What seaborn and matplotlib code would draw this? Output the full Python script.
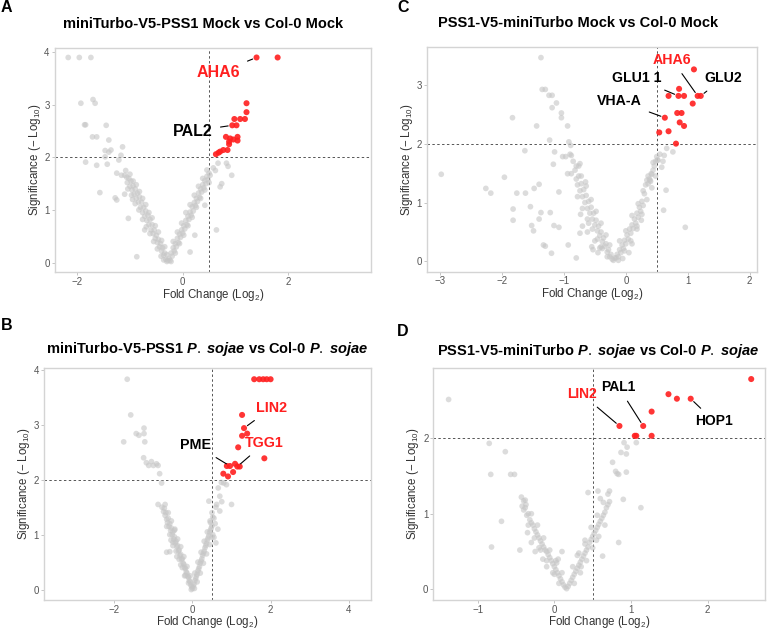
import numpy as np
import pandas as pd
import seaborn as sns
import matplotlib.pyplot as plt

# ---- panel A: miniTurbo-V5-PSS1 Mock vs Col-0 Mock ----
a_grey_x = [-2.17, -1.96, -1.74, -1.93, -1.70, -1.66, -1.86, -1.84, -1.45, -1.71, -1.63, -1.40,
            -1.47, -1.40, -1.36, -1.84, -1.63, -1.47, -1.43, -1.57, -1.28, -1.17, -1.14, -1.21,
            -1.25, -1.16, -1.25, -1.03, -0.87, -0.95, -1.10, -0.72,
            -1.10, -1.06, -1.05, -1.02, -1.00, -0.98, -0.96, -0.94, -0.92, -0.90, -0.88, -0.86,
            -0.84, -0.82, -0.80, -0.78, -0.76, -0.74, -0.72, -0.70, -0.68, -0.66, -0.64, -0.62,
            -0.60, -0.58, -0.56, -0.54, -0.52, -0.50, -0.48, -0.46, -0.44, -0.42, -0.40, -0.38,
            -0.36, -0.34, -0.32, -0.30, -0.28,
            -1.08, -1.00, -0.94, -0.88, -0.82, -0.76, -0.70, -0.64, -0.58, -0.52, -0.46, -0.40,
            -0.34, -0.30, -1.04, -0.97, -0.90, -0.83, -0.76, -0.69, -0.62, -0.55, -0.48, -0.41,
            -0.36,
            -0.26, -0.24, -0.22, -0.20, -0.18, -0.16, -0.14, -0.12, -0.10, -0.08, -0.06, -0.04,
            -0.02, 0.00, 0.02, 0.04, 0.06, 0.08, 0.10, 0.12, 0.14, 0.16, 0.18, 0.20, 0.22, 0.24,
            0.26, 0.28, 0.30, 0.32, 0.34, 0.36, 0.38, 0.40, 0.42, 0.44, 0.46, 0.48, 0.50, 0.52,
            -0.18, -0.10, -0.02, 0.06, 0.14, 0.22, 0.30, 0.38, 0.46,
            -0.22, -0.14, -0.06, 0.02, 0.10, 0.18, 0.26, 0.34, 0.42, 0.50,
            0.14, 0.23, 0.42, 0.64, 0.67, 0.83, 0.86, 0.93, 0.74, 0.71, 0.58, 0.62]
a_grey_y = [3.90, 3.90, 3.90, 3.03, 3.10, 3.03, 2.62, 2.62, 2.61, 2.39, 2.39, 2.33,
            2.13, 2.10, 2.14, 1.91, 1.85, 2.01, 1.87, 1.33, 1.23, 2.04, 2.20, 1.95,
            1.70, 1.66, 1.19, 0.84, 0.11, 1.20, 1.30, 0.62,
            1.66, 1.62, 1.52, 1.60, 1.45, 1.55, 1.38, 1.46, 1.30, 1.40, 1.22, 1.32,
            1.15, 1.25, 1.05, 1.15, 0.95, 1.05, 0.88, 0.98, 0.80, 0.90, 0.72, 0.82,
            0.62, 0.72, 0.55, 0.62, 0.46, 0.52, 0.38, 0.44, 0.30, 0.36, 0.22, 0.28,
            0.14, 0.18, 0.06, 0.02, 0.04,
            1.75, 1.68, 1.55, 1.48, 1.35, 1.22, 1.10, 0.95, 0.85, 0.70, 0.58, 0.42,
            0.30, 0.15, 1.40, 1.28, 1.12, 1.00, 0.82, 0.68, 0.55, 0.40, 0.26, 0.12,
            0.05,
            0.08, 0.04, 0.18, 0.12, 0.28, 0.22, 0.36, 0.30, 0.46, 0.38, 0.54, 0.48,
            0.62, 0.56, 0.70, 0.64, 0.80, 0.72, 0.88, 0.82, 0.96, 0.90, 1.06, 0.98, 1.14, 1.08,
            1.22, 1.16, 1.32, 1.24, 1.40, 1.34, 1.48, 1.42, 1.56, 1.50, 1.64, 1.58, 1.70, 1.66,
            0.40, 0.58, 0.75, 0.95, 1.10, 1.28, 1.45, 1.60, 1.76,
            0.02, 0.18, 0.36, 0.52, 0.70, 0.86, 1.05, 1.22, 1.38, 1.52,
            0.20, 0.52, 1.09, 0.62, 1.89, 1.89, 1.83, 1.66, 1.50, 1.44, 1.80, 1.75]
a_red_x = [1.40, 1.80, 1.21, 1.21, 0.98, 1.09, 1.18, 0.94, 1.02, 0.82, 0.90, 1.04, 1.04,
           0.88, 0.88, 0.96, 0.77, 0.85, 0.68, 0.63, 0.71]
a_red_y = [3.90, 3.90, 3.03, 2.86, 2.73, 2.73, 2.73, 2.61, 2.61, 2.39, 2.36, 2.39, 2.32,
           2.30, 2.25, 2.34, 2.14, 2.14, 2.09, 2.06, 2.11]
a_labels = ["AHA6", "PAL2"]
a_label_idx = [0, 7]

# ---- panel C: PSS1-V5-miniTurbo Mock vs Col-0 Mock ----
c_grey_x = [-1.37, -1.35, -1.30, -1.24, -1.19, -1.12, -1.19, -1.04, -1.04, -0.94, -1.83, -1.44,
            -1.23, -0.92, -0.89, -1.15, -1.63, -1.17, -1.02, -0.97, -0.90, -0.88, -0.74, -0.76,
            -2.98, -1.96, -2.26, -2.18, -1.48, -1.40, -1.76, -1.62, -1.08, -1.22, -1.82, -1.82,
            -1.54, -1.37, -1.40, -1.52, -1.49, -1.16, -1.08, -1.33, -1.30, -1.20, -0.93, -0.80,
            -0.94, -0.88,
            -0.82, -0.80, -0.78, -0.76, -0.74, -0.72, -0.70, -0.68, -0.66, -0.64, -0.62, -0.60,
            -0.58, -0.56, -0.54, -0.52, -0.50, -0.48, -0.46, -0.44, -0.42, -0.40, -0.38, -0.36,
            -0.34, -0.32, -0.30, -0.28, -0.26, -0.24, -0.22, -0.20, -0.18,
            -0.80, -0.72, -0.64, -0.56, -0.48, -0.40, -0.32, -0.26,
            -0.78, -0.70, -0.62, -0.54, -0.46, -0.38, -0.30,
            -0.73, -0.62, -0.60, -0.50, -0.70, -0.55, -0.45, -0.65, -0.85, -0.40, -0.74, -0.53,
            -0.42,
            -0.16, -0.14, -0.12, -0.10, -0.08, -0.06, -0.04, -0.02, 0.00, 0.02, 0.04, 0.06,
            0.08, 0.10, 0.12, 0.14, 0.16, 0.18, 0.20, 0.22, 0.24, 0.26, 0.28, 0.30, 0.32, 0.34,
            0.36, 0.38, 0.40, 0.42, 0.44, 0.46, 0.48, 0.50, 0.52, 0.55,
            -0.10, 0.00, 0.10, 0.20, 0.28, 0.36, 0.44,
            -0.12, -0.02, 0.08, 0.18, 0.26, 0.34, 0.42, 0.48,
            0.39, 0.41, 0.51, 0.66, 0.61, 0.65, 0.76, 0.96, 0.60, 0.58, 0.62, 0.10, 0.05, 0.18,
            0.25, -0.05]
c_grey_y = [3.46, 2.92, 2.92, 2.82, 2.82, 2.69, 2.61, 2.52, 2.44, 2.30, 2.44, 2.30,
            2.06, 2.03, 1.97, 1.86, 1.88, 1.65, 1.78, 1.78, 1.82, 1.80, 1.66, 1.62,
            1.48, 1.43, 1.24, 1.16, 1.24, 1.31, 1.16, 1.16, 1.18, 0.83, 0.89, 0.70,
            0.93, 0.83, 0.72, 0.61, 0.52, 0.61, 0.58, 0.28, 0.26, 0.14, 0.28, 0.06,
            1.49, 1.49,
            1.55, 1.40, 1.30, 1.45, 1.20, 1.32, 1.10, 1.22, 1.00, 1.12, 0.90, 1.02,
            0.82, 0.92, 0.72, 0.82, 0.62, 0.70, 0.52, 0.60, 0.44, 0.50, 0.34, 0.40,
            0.26, 0.30, 0.16, 0.20, 0.08, 0.12, 0.04, 0.02, 0.06,
            1.62, 1.45, 1.28, 1.05, 0.85, 0.65, 0.45, 0.28,
            1.10, 0.90, 0.72, 0.55, 0.38, 0.22, 0.08,
            0.80, 0.50, 0.65, 0.35, 0.60, 0.25, 0.15, 1.35, 1.70, 0.25, 0.48, 0.20,
            0.23,
            0.06, 0.12, 0.08, 0.20, 0.15, 0.28, 0.22, 0.36, 0.30, 0.45, 0.38, 0.55,
            0.48, 0.62, 0.56, 0.72, 0.65, 0.82, 0.75, 0.92, 0.85, 1.02, 0.95, 1.15, 1.30, 1.38,
            1.32, 1.40, 1.36, 1.48, 1.55, 1.62, 1.70, 1.78, 1.72, 1.82,
            0.35, 0.52, 0.78, 0.98, 1.20, 1.45, 1.68,
            0.02, 0.18, 0.35, 0.60, 0.80, 1.05, 1.25, 1.45,
            1.38, 1.49, 1.72, 1.92, 0.87, 1.21, 1.86, 0.58, 1.70, 1.60, 1.80, 0.30, 0.15, 0.55,
            0.70, 0.05]
c_red_x = [1.10, 0.86, 0.69, 0.85, 0.94, 1.16, 1.21, 1.08, 0.83, 0.90, 0.63, 0.87, 0.94,
           0.69, 0.54, 0.81]
c_red_y = [3.26, 2.93, 2.81, 2.81, 2.81, 2.81, 2.81, 2.68, 2.52, 2.52, 2.44, 2.36, 2.30,
           2.21, 2.19, 2.00]
c_labels = ["AHA6", "GLU2", "GLU1 1", "VHA-A"]
c_label_idx = [5, 6, 3, 10]

# ---- panel B: miniTurbo-V5-PSS1 P. sojae vs Col-0 P. sojae ----
b_grey_x = [-1.67, -1.58, -1.76, -1.44, -1.37, -1.24, -1.24, -1.22, -1.25, -1.18, -1.05, -0.92,
            -1.12, -1.00, -0.88, -0.84, -0.79, -0.88,
            -0.78, -0.74, -0.72, -0.70, -0.68, -0.66, -0.64, -0.62, -0.60, -0.58, -0.56, -0.54,
            -0.52, -0.50, -0.48, -0.46, -0.44, -0.42, -0.40, -0.38, -0.36, -0.34, -0.32, -0.30,
            -0.28, -0.26, -0.24, -0.22, -0.20, -0.18, -0.16, -0.14, -0.12, -0.10, -0.08, -0.06,
            -0.04, -0.02, 0.00,
            -0.70, -0.62, -0.54, -0.46, -0.38, -0.30, -0.22, -0.14, -0.06,
            -0.66, -0.58, -0.50, -0.42, -0.34, -0.26, -0.18, -0.10, -0.03,
            -0.58, -0.66, -0.50, -0.40, -0.30, -0.20, -0.45, -0.55,
            0.02, 0.04, 0.06, 0.08, 0.10, 0.12, 0.14, 0.16, 0.18, 0.20, 0.22, 0.24, 0.26, 0.28,
            0.30, 0.32, 0.34, 0.36, 0.38, 0.40, 0.42, 0.44, 0.46, 0.48, 0.50,
            0.06, 0.14, 0.22, 0.30, 0.38, 0.46, 0.52,
            0.05, 0.12, 0.20, 0.28, 0.36, 0.44, 0.50,
            0.42, 0.55, 0.60, 0.62, 0.66, 0.70, 0.74, 0.80, 0.87, 0.65, 0.55, 0.58, 0.70, 0.75,
            0.50, 0.45, 0.60, 1.00, 0.52]
b_grey_y = [3.83, 3.18, 2.69, 2.84, 2.81, 2.94, 2.84, 2.69, 2.40, 2.31, 2.33, 2.29,
            2.26, 2.26, 2.26, 2.11, 1.94, 1.55,
            1.50, 1.42, 1.48, 1.35, 1.40, 1.28, 1.22, 1.30, 1.15, 1.20, 1.08, 1.12,
            1.00, 1.05, 0.92, 0.96, 0.85, 0.88, 0.78, 0.80, 0.70, 0.72, 0.62, 0.64,
            0.55, 0.56, 0.48, 0.46, 0.40, 0.38, 0.32, 0.30, 0.24, 0.22, 0.16, 0.14,
            0.08, 0.05, 0.02,
            1.55, 1.40, 1.25, 1.08, 0.92, 0.78, 0.60, 0.42, 0.25,
            1.15, 1.00, 0.86, 0.70, 0.55, 0.40, 0.26, 0.12, 0.00,
            0.69, 0.68, 0.80, 0.60, 0.45, 0.25, 1.10, 0.90,
            0.06, 0.10, 0.16, 0.20, 0.24, 0.28, 0.34, 0.38, 0.42, 0.48, 0.52, 0.56, 0.62, 0.66,
            0.70, 0.76, 0.80, 0.84, 0.90, 0.94, 0.98, 1.04, 1.08, 1.12, 1.16,
            0.30, 0.50, 0.68, 0.88, 1.05, 1.22, 1.32,
            0.02, 0.14, 0.30, 0.48, 0.65, 0.82, 0.95,
            1.61, 1.30, 1.50, 1.55, 1.85, 1.43, 1.95, 1.94, 1.91, 1.10, 0.95, 1.20, 1.70, 1.60,
            1.40, 1.25, 0.85, 1.55, 1.00]
b_red_x = [1.58, 1.71, 1.81, 1.90, 2.00, 1.27, 1.32, 1.27, 1.40, 1.17, 1.84, 0.88, 0.96,
           1.09, 1.15, 1.21, 1.04, 0.79, 0.91]
b_red_y = [3.83, 3.83, 3.83, 3.83, 3.83, 3.18, 2.94, 2.80, 2.84, 2.59, 2.39, 2.25, 2.25,
           2.29, 2.24, 2.24, 2.14, 2.11, 2.06]
b_labels = ["LIN2", "TGG1", "PME"]
b_label_idx = [6, 14, 12]

# ---- panel D: PSS1-V5-miniTurbo P. sojae vs Col-0 P. sojae ----
d_grey_x = [-1.38, -0.85, -0.64, -0.83, -0.57, -0.52, -0.69, -0.82, -0.43, -0.40, -0.37,
            -0.42, -0.40, -0.38, -0.36, -0.34, -0.32, -0.30, -0.28, -0.26, -0.24, -0.22, -0.20,
            -0.18, -0.16, -0.14, -0.12, -0.10, -0.08, -0.06, -0.04, -0.02, 0.00, 0.02, 0.04,
            0.06, 0.08, 0.10, 0.12, 0.14, 0.16,
            -0.38, -0.30, -0.22, -0.14, -0.06, 0.02, 0.10,
            -0.34, -0.26, -0.18, -0.10, -0.02, 0.06,
            -0.45, -0.30, -0.25, -0.15, -0.10, 0.05, 0.00, -0.35, -0.20, 0.10, 0.03,
            0.18, 0.20, 0.22, 0.24, 0.26, 0.28, 0.30, 0.32, 0.34, 0.36, 0.38, 0.40, 0.42, 0.44,
            0.46, 0.48, 0.50, 0.52, 0.54, 0.56, 0.58, 0.60, 0.62, 0.64, 0.66, 0.68, 0.70, 0.72,
            0.24, 0.32, 0.40, 0.48, 0.56, 0.64, 0.72,
            0.26, 0.34, 0.42, 0.50, 0.58, 0.66,
            0.44, 0.57, 0.70, 0.76, 0.80, 0.82, 0.84, 0.94, 0.90, 1.13, 0.84, 0.63, 0.91, 0.95,
            0.94, 1.07, 0.87, 0.40, 0.35, 0.55, 0.60, 0.30]
d_grey_y = [2.51, 1.93, 1.82, 1.52, 1.52, 1.52, 0.90, 0.56, 1.22, 1.17, 1.12,
            1.10, 1.05, 1.08, 0.98, 1.00, 0.92, 0.88, 0.85, 0.80, 0.76, 0.72, 0.68,
            0.64, 0.60, 0.56, 0.52, 0.50, 0.46, 0.42, 0.38, 0.34, 0.30, 0.26, 0.22,
            0.18, 0.14, 0.10, 0.06, 0.03, 0.01,
            1.18, 1.00, 0.85, 0.68, 0.52, 0.38, 0.22,
            0.85, 0.68, 0.52, 0.38, 0.22, 0.08,
            0.52, 0.62, 0.50, 0.40, 0.30, 0.40, 0.20, 0.75, 0.55, 0.50, 0.35,
            0.04, 0.08, 0.12, 0.16, 0.20, 0.24, 0.28, 0.32, 0.36, 0.40, 0.44, 0.48, 0.52, 0.56,
            0.62, 0.66, 0.70, 0.74, 0.78, 0.82, 0.86, 0.90, 0.94, 0.98, 1.02, 1.08, 1.12, 1.16,
            0.30, 0.48, 0.65, 0.82, 0.98, 1.15, 1.30,
            0.08, 0.22, 0.38, 0.55, 0.70, 0.85,
            1.28, 1.30, 1.26, 1.68, 1.56, 1.53, 1.52, 1.55, 1.19, 1.08, 0.62, 0.44, 1.94, 1.88,
            1.79, 1.94, 1.81, 0.60, 0.30, 0.65, 1.20, 0.45]
d_red_x = [2.57, 1.49, 1.60, 1.78, 1.27, 0.85, 1.16, 1.05, 1.07, 1.27]
d_red_y = [2.78, 2.58, 2.52, 2.52, 2.35, 2.16, 2.16, 2.03, 2.03, 2.03]
d_labels = ["LIN2", "PAL1", "HOP1"]
d_label_idx = [5, 6, 3]

sns.set_theme(style="white")
plt.rcParams['font.family'] = ['Liberation Sans', 'DejaVu Sans']
plt.rcParams['mathtext.fontset'] = 'custom'
plt.rcParams['mathtext.rm'] = 'Liberation Sans'
plt.rcParams['mathtext.it'] = 'Liberation Sans:italic:bold'
plt.rcParams['mathtext.bf'] = 'Liberation Sans:bold'

W, H = 767, 632
fig = plt.figure(figsize=(W / 100, H / 100), dpi=100)


def px_axes(l, t, r, b):
    return fig.add_axes([l / W, 1 - b / H, (r - l) / W, (b - t) / H])


def volcano(ax, gx, gy, rx, ry, xlim, ylim, xticks, yticks, labels, idx, label_pos,
            label_cols, fs, xlab_y):
    grey = pd.DataFrame({"fc": gx, "sig": gy})
    red = pd.DataFrame({"fc": rx, "sig": ry})
    sns.scatterplot(data=grey, x="fc", y="sig", color="#c6c6c6", alpha=0.6, s=17,
                    edgecolor="none", ax=ax, zorder=2)
    sns.scatterplot(data=red, x="fc", y="sig", color="#ff1f1f", alpha=0.9, s=19,
                    edgecolor="none", ax=ax, zorder=3)
    ax.axvline(0.5, color="#555555", lw=0.7, dashes=(2.5, 2.5), zorder=1)
    ax.axhline(2, color="#555555", lw=0.7, dashes=(2.5, 2.5), zorder=1)
    ax.set_xlim(*xlim)
    ax.set_ylim(*ylim)
    ax.set_xticks(xticks)
    ax.set_yticks(yticks)
    ax.tick_params(length=2, width=0.6, color="#bbbbbb", labelsize=7,
                   labelcolor="#555555", pad=1.5, left=True, bottom=True)
    for s in ax.spines.values():
        s.set_color("#d4d4d4")
        s.set_linewidth(1.0)
    ax.set_xlabel(r"Fold Change (Log$_2$)", fontsize=8.3, color="#333333")
    ax.set_ylabel(r"Significance ($-$ Log$_{10}$)", fontsize=8.3, color="#333333")
    ax.xaxis.set_label_coords(0.5, xlab_y)
    ax.yaxis.set_label_coords(-0.036, 0.5)
    for name, i, pos, col in zip(labels, idx, label_pos, label_cols):
        ax.annotate(name, xy=(rx[i], ry[i]), xytext=pos, textcoords="data",
                    ha="center", va="center", fontsize=fs, fontweight="bold", color=col,
                    arrowprops=dict(arrowstyle="-", color="black", lw=0.8,
                                    shrinkA=3, shrinkB=3), zorder=4)


axA = px_axes(54.5, 47.5, 371, 272)
volcano(axA, a_grey_x, a_grey_y, a_red_x, a_red_y, (-2.43, 3.57), (-0.18, 4.09),
        [-2, 0, 2], [0, 1, 2, 3, 4], a_labels, a_label_idx,
        [(0.68, 3.61), (0.20, 2.50)], ["#ff1f1f", "black"], 11.5, -0.067)

axC = px_axes(427, 47, 756.5, 271.5)
volcano(axC, c_grey_x, c_grey_y, c_red_x, c_red_y, (-3.21, 2.11), (-0.17, 3.64),
        [-3, -2, -1, 0, 1, 2], [0, 1, 2, 3], c_labels, c_label_idx,
        [(0.75, 3.42), (1.57, 3.11), (0.17, 3.11), (-0.10, 2.72)],
        ["#ff1f1f", "black", "black", "black"], 10.2, -0.065)

axB = px_axes(44, 367.7, 371, 600)
volcano(axB, b_grey_x, b_grey_y, b_red_x, b_red_y, (-3.8, 4.57), (-0.19, 4.04),
        [-2, 0, 2, 4], [0, 1, 2, 3, 4], b_labels, b_label_idx,
        [(2.03, 3.31), (1.85, 2.67), (0.08, 2.63)], ["#ff1f1f", "#ff1f1f", "black"], 10.3,
        -0.062)

axD = px_axes(433.3, 367.7, 765, 600)
volcano(axD, d_grey_x, d_grey_y, d_red_x, d_red_y, (-1.58, 2.75), (-0.14, 2.93),
        [-1, 0, 1, 2], [0, 1, 2], d_labels, d_label_idx,
        [(0.36, 2.58), (0.84, 2.67), (2.09, 2.22)], ["#ff1f1f", "black", "black"], 10,
        -0.062)

titles = [("miniTurbo-V5-PSS1 Mock vs Col-0 Mock", 203, 24),
          ("PSS1-V5-miniTurbo Mock vs Col-0 Mock", 578, 23),
          (r"miniTurbo-V5-PSS1 $P.\;sojae$ vs Col-0 $P.\;sojae$", 207, 349),
          (r"PSS1-V5-miniTurbo $P.\;sojae$ vs Col-0 $P.\;sojae$", 598, 351)]
for t, x, y in titles:
    fig.text(x / W, 1 - y / H, t, ha="center", va="center", fontsize=10.5,
             fontweight="bold", color="black")

letters = [("A", 6, 7), ("C", 403, 8), ("B", 7, 326), ("D", 403, 331)]
for t, x, y in letters:
    fig.text(x / W, 1 - y / H, t, ha="center", va="center", fontsize=11.5,
             fontweight="bold", color="black")

fig.savefig("out.png", dpi=100)
